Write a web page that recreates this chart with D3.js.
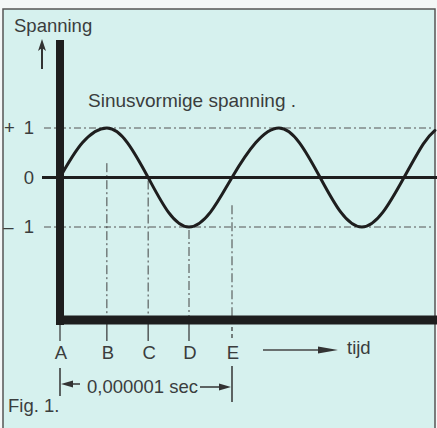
<!DOCTYPE html>
<html><head><meta charset="utf-8">
<script src="https://cdn.jsdelivr.net/npm/d3@7"></script>
<style>
html,body{margin:0;padding:0;background:#fff;}
text{font-family:"Liberation Sans",Arial,sans-serif;fill:#3a3d3d;}
</style></head>
<body>
<script>
// ---- data ----
const timeSteps = [0,0.52,1.09,1.57,2.05,2.52,3.0,3.5,4.0,4.55,5.09,5.57,6.05,6.53,7.02,7.51,8.0,8.45,8.72];
const voltage   = [0,0.7,1,0.7,0,-0.7,-1,-0.7,0,0.7,1,0.7,0,-0.7,-1,-0.7,0,0.68,0.95];
const pointLabels = ["A","B","C","D","E"];
const pointTimes  = [0,1.09,2.05,3.0,4.0];
const guideTop    = [null,0.35,0,-1,-0.5]; // where dashed drop lines start (voltage)
const yTickValues = [1,0,-1];
const yTickLabels = ["+\u2009 1","0","–  1"];
const title = "Sinusvormige spanning .";
const yTitle = "Spanning";
const xTitle = "tijd";
const spanLabel = "0,000001 sec";
const figLabel = "Fig. 1.";

const W=437,H=428;
const svg=d3.select("body").append("svg").attr("width",W).attr("height",H);
svg.append("rect").attr("width",W).attr("height",H).attr("fill","#f4f7f7");
svg.append("rect").attr("x",3).attr("y",9).attr("width",432).attr("height",440)
  .attr("fill","#d6f1ee").attr("stroke","#555").attr("stroke-width",1.5);

const x=d3.scaleLinear().domain([0,4]).range([60,232]);
const y=d3.scaleLinear().domain([-1,1]).range([227,128]);
const axisY=320;
const ink="#1e1e1e";

// dashed +1/-1 lines
svg.selectAll("line.grid").data(yTickValues.filter(v=>v!==0)).join("line")
  .attr("x1",44).attr("x2",434).attr("y1",d=>y(d)).attr("y2",d=>y(d))
  .attr("stroke","#555").attr("stroke-width",1).attr("stroke-dasharray","7,3,2,3");

// drop lines
pointTimes.forEach((t,i)=>{
  if(guideTop[i]===null) return;
  svg.append("line").attr("x1",x(t)).attr("x2",x(t))
    .attr("y1",y(guideTop[i])+3).attr("y2",axisY)
    .attr("stroke","#444").attr("stroke-width",1).attr("stroke-dasharray","9,3,2,3");
});

// zero line
svg.append("line").attr("x1",42).attr("x2",437).attr("y1",y(0)).attr("y2",y(0))
  .attr("stroke",ink).attr("stroke-width",3);

// y tick labels
svg.selectAll("text.yl").data(yTickValues).join("text")
  .attr("x",34).attr("y",d=>y(d)+6).attr("text-anchor","end")
  .style("white-space","pre").attr("font-size",18.5)
  .text((d,i)=>yTickLabels[i]);

// sine curve
const line=d3.line().x(d=>x(d[0])).y(d=>y(d[1])).curve(d3.curveNatural);
svg.append("path").datum(timeSteps.map((t,i)=>[t,voltage[i]]))
  .attr("d",line).attr("fill","none").attr("stroke",ink).attr("stroke-width",3)
  .attr("stroke-linecap","round");

// ticks below axis
svg.selectAll("line.tk").data(pointTimes).join("line")
  .attr("x1",d=>x(d)).attr("x2",d=>x(d)).attr("y1",axisY).attr("y2",341)
  .attr("stroke","#333").attr("stroke-width",1.2)
  .attr("stroke-dasharray",(d,i)=>i===4?"4,3":null);

// axes (thick)
svg.append("line").attr("x1",60).attr("x2",60).attr("y1",40).attr("y2",axisY+5)
  .attr("stroke",ink).attr("stroke-width",8);
svg.append("line").attr("x1",56).attr("x2",437).attr("y1",axisY).attr("y2",axisY)
  .attr("stroke",ink).attr("stroke-width",9);

// point labels
svg.selectAll("text.pl").data(pointLabels).join("text")
  .attr("x",(d,i)=>x(pointTimes[i])+1).attr("y",359).attr("text-anchor","middle")
  .attr("font-size",18.5).text(d=>d);

// y title & arrow
svg.append("text").attr("x",14).attr("y",32).attr("font-size",18.5).text(yTitle);
svg.append("line").attr("x1",42).attr("x2",42).attr("y1",46).attr("y2",69)
  .attr("stroke","#333").attr("stroke-width",2);
svg.append("path").attr("d","M42,39 L38,51 L42,48 L46,51 Z").attr("fill","#333");

// title
svg.append("text").attr("x",88).attr("y",107).attr("font-size",19).text(title);

// time arrow
svg.append("line").attr("x1",263).attr("x2",322).attr("y1",350).attr("y2",350)
  .attr("stroke","#444").attr("stroke-width",1.5);
svg.append("path").attr("d","M318,346.5 L338,350 L318,353.5 Z").attr("fill","#333");
svg.append("text").attr("x",347).attr("y",354).attr("font-size",18.5).text(xTitle);

// span bracket
svg.append("line").attr("x1",x(0)).attr("x2",x(0)).attr("y1",368).attr("y2",396)
  .attr("stroke","#333").attr("stroke-width",1.5);
svg.append("line").attr("x1",x(4)).attr("x2",x(4)).attr("y1",366).attr("y2",402)
  .attr("stroke","#333").attr("stroke-width",1.5);
svg.append("line").attr("x1",70).attr("x2",80).attr("y1",384).attr("y2",384)
  .attr("stroke","#333").attr("stroke-width",1.5);
svg.append("path").attr("d","M61,384 L73,380.5 L73,387.5 Z").attr("fill","#333");
svg.append("line").attr("x1",200).attr("x2",222).attr("y1",387).attr("y2",387)
  .attr("stroke","#333").attr("stroke-width",1.5);
svg.append("path").attr("d","M231,387 L219,383.5 L219,390.5 Z").attr("fill","#333");
svg.append("text").attr("x",87).attr("y",393).attr("font-size",18.5).text(spanLabel);

svg.append("text").attr("x",8).attr("y",412).attr("font-size",18.5).text(figLabel);
</script>
</body></html>
